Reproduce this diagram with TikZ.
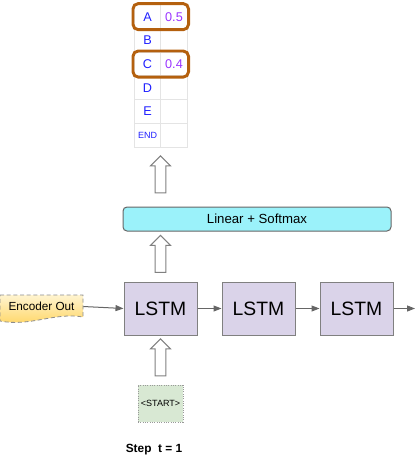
\documentclass[tikz,border=0pt]{standalone}
\usepackage{fontspec}
\setmainfont{Liberation Sans}
\usetikzlibrary{positioning,calc,fit,shapes.arrows,arrows.meta}
\definecolor{lstmfill}{HTML}{DAD3E9}
\definecolor{linfill}{HTML}{9BF2FA}
\definecolor{pickbrown}{HTML}{B4600E}
\definecolor{startfill}{HTML}{D8E8D3}
\definecolor{gridgray}{HTML}{E4E4E4}
\definecolor{wordblue}{HTML}{1F1FFF}
\definecolor{probpurple}{HTML}{9933FF}
\definecolor{linkgray}{HTML}{666666}
\definecolor{enctop}{HTML}{FFF4D0}
\definecolor{encbottom}{HTML}{FFD45E}
\tikzset{
  lstmbox/.style={draw=black!50, line width=0.75pt, fill=lstmfill, minimum width=54.75pt, minimum height=39.75pt, font=\fontsize{14.5}{16}\selectfont},
  cell/.style={draw=gridgray, line width=0.6pt, minimum width=20pt, minimum height=17.8pt, inner sep=0pt, font=\fontsize{9.5}{11}\selectfont},
  pick/.style={draw=pickbrown, line width=2.2pt, rounded corners=4pt, inner sep=0.6pt},
  hollow/.style={single arrow, draw=black!50, fill=white, line width=0.75pt, rotate=90, minimum height=27.75pt, single arrow head extend=3.5pt, inner sep=3.6pt},
  link/.style={draw=linkgray, line width=0.75pt, -{Triangle[length=6pt,width=4.5pt]}},
}
\begin{document}
\begin{tikzpicture}[x=0.75pt, y=-0.75pt]
\useasboundingbox (0,0) rectangle (415,460);
% vocabulary table
\foreach \w/\p [count=\i] in {A/0.5,B/,C/0.4,D/,E/}{
  \node[cell, text=wordblue] (w\i) at (147.5, 4.8+23.7*\i-11.85) {\w};
  \node[cell, text=probpurple] (p\i) at (174, 4.8+23.7*\i-11.85) {\p};
}
\node[cell, text=wordblue, font=\fontsize{6.75}{8}\selectfont] (w6) at (147.5, 135.3) {END};
\node[cell] (p6) at (174, 135.3) {};
\node[pick, fit=(w1)(p1)] (pickA) {};
\node[pick, fit=(w3)(p3)] (pickC) {};
% decoder
\node[lstmbox] (lstm1) at (160.5, 308.5) {LSTM};
\node[lstmbox, right=18pt of lstm1] (lstm2) {LSTM};
\node[lstmbox, right=18pt of lstm2] (lstm3) {LSTM};
\node[draw=black!60, line width=0.75pt, fill=linfill, rounded corners=3pt, minimum width=201pt, minimum height=18pt, font=\fontsize{9.9}{11}\selectfont] (lin) at (257, 219) {Linear + Softmax};
\node[draw=black!40, densely dotted, line width=0.75pt, fill=startfill, minimum width=33.75pt, minimum height=27.75pt, inner sep=0pt, font=\fontsize{6.75}{8}\selectfont] (start) at (160.5, 403.5) {<START>};
% encoder output
\shade[top color=enctop, bottom color=encbottom, draw=black!45, densely dashed, line width=0.6pt]
  (0,295) -- (83,295) -- (83,317) .. controls (55,312) and (30,327) .. (0,321) -- cycle;
\node[minimum width=62.25pt, minimum height=20.25pt, inner sep=0pt, font=\fontsize{8.8}{10}\selectfont] (enc) at (41.5, 306.5) {Encoder Out};
\coordinate (out) at (415, 308.5);
\draw[link] (enc.east) -- (lstm1.west);
\draw[link] (lstm1) -- (lstm2);
\draw[link] (lstm2) -- (lstm3);
\draw[link] (lstm3) -- (out);
% hollow arrows
\node[hollow] (up1) at ($(start.north)!0.5!(lstm1.north |- lstm1.south)$) {};
\node[hollow] (up2) at ($(lstm1.north)!0.5!(lstm1.north |- lin.south)$) {};
\node[hollow] (up3) at ($(lstm1.north |- lin.north)!0.5!(w6.south -| lstm1.north)$) {};
\node[font=\fontsize{8.9}{10}\selectfont\bfseries] (steplabel) at (154, 450) {Step\ \ t = 1};
\end{tikzpicture}
\end{document}
